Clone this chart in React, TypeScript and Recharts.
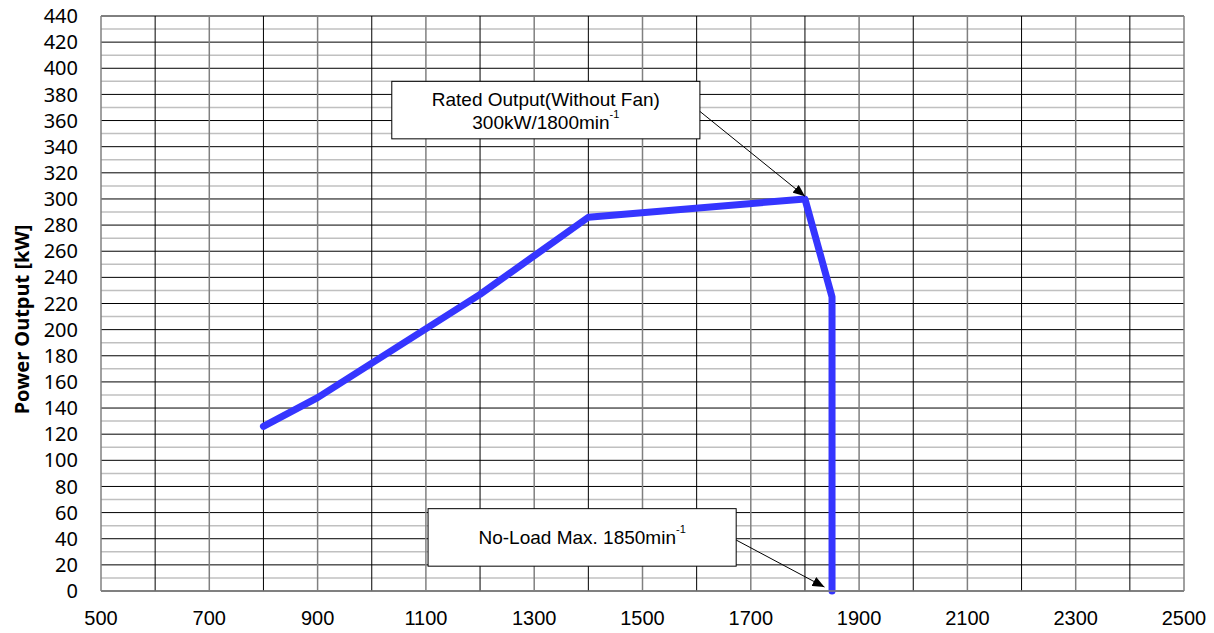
import React from "react";
import {
  CartesianGrid,
  Line,
  LineChart,
  ReferenceArea,
  ReferenceLine,
  XAxis,
  YAxis,
} from "recharts";

// engine speed [min-1] and power output [kW]
const rpm = [800, 900, 1200, 1400, 1800, 1850, 1850];
const powerKw = [126, 148, 227, 286, 300, 225, 0];

const xTicks = [500, 700, 900, 1100, 1300, 1500, 1700, 1900, 2100, 2300, 2500];
const xGridOdd = [600, 800, 1000, 1200, 1400, 1600, 1800, 2000, 2200, 2400];
const xGridEven = [700, 900, 1100, 1300, 1500, 1700, 1900, 2100, 2300, 2500];
const yTicks = [0, 20, 40, 60, 80, 100, 120, 140, 160, 180, 200, 220, 240, 260, 280, 300, 320, 340, 360, 380, 400, 420, 440];
const yMinor = [10, 30, 50, 70, 90, 110, 130, 150, 170, 190, 210, 230, 250, 270, 290, 310, 330, 350, 370, 390, 410, 430];

// callouts, in chart units
const ratedBoxX = [1037, 1606];
const ratedBoxY = [346, 390];
const ratedArrow = [{ x: 1606, y: 367 }, { x: 1800, y: 302 }];
const noLoadBoxX = [1104, 1673];
const noLoadBoxY = [19, 63];
const noLoadArrow = [{ x: 1673, y: 39 }, { x: 1836, y: 3 }];

const data = rpm.map((r, i) => ({ rpm: r, power: powerKw[i] }));

const NOTE_FONT = "'Liberation Sans', Arial, sans-serif";

function Sup() {
  return (
    <tspan fontSize={11} dy={-8}>
      -1
    </tspan>
  );
}

function RatedBox(p: any) {
  const cx = p.x + p.width / 2;
  const cy = p.y + p.height / 2;
  return (
    <g>
      <rect x={p.x} y={p.y} width={p.width} height={p.height} fill="#fff" stroke="#000" strokeWidth={1} />
      <text x={cx} y={cy - 11} textAnchor="middle" dominantBaseline="central" fontFamily={NOTE_FONT} fontSize={19} fill="#000">
        Rated Output(Without Fan)
      </text>
      <text x={cx} y={cy + 12} textAnchor="middle" dominantBaseline="central" fontFamily={NOTE_FONT} fontSize={19} fill="#000">
        300kW/1800min<Sup />
      </text>
    </g>
  );
}

function NoLoadBox(p: any) {
  const cx = p.x + p.width / 2;
  const cy = p.y + p.height / 2;
  return (
    <g>
      <rect x={p.x} y={p.y} width={p.width} height={p.height} fill="#fff" stroke="#000" strokeWidth={1} />
      <text x={cx} y={cy} textAnchor="middle" dominantBaseline="central" fontFamily={NOTE_FONT} fontSize={19} fill="#000">
        No-Load Max. 1850min<Sup />
      </text>
    </g>
  );
}

function Arrow(p: any) {
  return <line x1={p.x1} y1={p.y1} x2={p.x2} y2={p.y2} stroke="#000" strokeWidth={1} markerEnd="url(#arrowHead)" />;
}

export default function App() {
  return (
    <div style={{ position: "absolute", left: 0, top: 0 }}>
      <svg width={0} height={0} style={{ position: "absolute" }}>
        <defs>
          <marker id="arrowHead" viewBox="0 0 12 10" refX={12} refY={5} markerWidth={12} markerHeight={10} markerUnits="userSpaceOnUse" orient="auto">
            <path d="M0,0 L12,5 L0,10 z" fill="#000" />
          </marker>
        </defs>
      </svg>
      <LineChart width={1214} height={633} data={data} margin={{ top: 16, right: 30, left: 0, bottom: 0 }}>
        <CartesianGrid vertical={false} horizontalValues={yMinor} stroke="#c0c0c0" strokeWidth={1.5} />
        <CartesianGrid vertical={false} horizontalValues={yTicks} stroke="#000" strokeWidth={1} />
        <CartesianGrid horizontal={false} verticalValues={xGridOdd} stroke="#000" strokeWidth={1} />
        <CartesianGrid horizontal={false} verticalValues={xGridEven} stroke="#808080" strokeWidth={1.5} />
        <XAxis
          dataKey="rpm"
          type="number"
          domain={[500, 2500]}
          ticks={xTicks}
          interval={0}
          height={42}
          tickLine={false}
          tickMargin={14}
          axisLine={{ stroke: "#808080", strokeWidth: 1.5 }}
          tick={{ fill: "#000", fontSize: 20, fontFamily: NOTE_FONT }}
        />
        <YAxis
          type="number"
          domain={[0, 440]}
          ticks={yTicks}
          interval={0}
          width={101}
          tickLine={false}
          tickMargin={17}
          axisLine={{ stroke: "#808080", strokeWidth: 1.5 }}
          tick={{ fill: "#000", fontSize: 20, fontFamily: "'Noto Sans', sans-serif" }}
          label={{
            value: "Power Output [kW]",
            angle: -90,
            position: "center",
            dx: -29,
            dy: 16,
            style: { fill: "#000", fontSize: 20, fontWeight: "bold", fontFamily: "'Noto Sans', sans-serif" },
          }}
        />
        <Line
          dataKey="power"
          stroke="#3535ff"
          strokeWidth={7}
          strokeLinecap="round"
          strokeLinejoin="round"
          dot={false}
          activeDot={false}
          isAnimationActive={false}
        />
        <ReferenceArea x1={ratedBoxX[0]} x2={ratedBoxX[1]} y1={ratedBoxY[0]} y2={ratedBoxY[1]} shape={RatedBox} />
        <ReferenceLine segment={ratedArrow} shape={Arrow} />
        <ReferenceArea x1={noLoadBoxX[0]} x2={noLoadBoxX[1]} y1={noLoadBoxY[0]} y2={noLoadBoxY[1]} shape={NoLoadBox} />
        <ReferenceLine segment={noLoadArrow} shape={Arrow} />
      </LineChart>
    </div>
  );
}
